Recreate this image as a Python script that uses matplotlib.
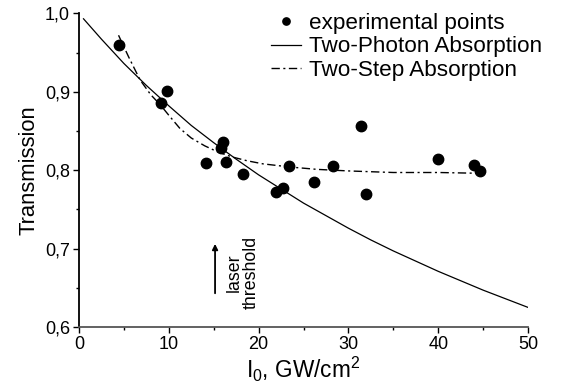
import matplotlib
matplotlib.use("Agg")
import matplotlib.pyplot as plt
from matplotlib.ticker import FuncFormatter, MultipleLocator

plt.rcParams['font.family'] = ['Liberation Sans', 'DejaVu Sans']
plt.rcParams['mathtext.fontset'] = 'custom'
plt.rcParams['mathtext.rm'] = 'Liberation Sans'
plt.rcParams['mathtext.it'] = 'Liberation Sans'

# experimental points
exp_x = [4.4, 9.1, 9.8, 14.1, 16.0, 15.8, 16.4, 18.3, 21.9, 22.7, 23.4, 26.2, 28.3, 31.4, 32.0, 40.0, 44.0, 44.6]
exp_y = [0.960, 0.885, 0.901, 0.809, 0.836, 0.828, 0.810, 0.795, 0.772, 0.777, 0.805, 0.785, 0.805, 0.856, 0.769, 0.814, 0.806, 0.799]

# Two-Photon Absorption fit curve
tpa_x = [0.5, 2.5, 5, 7.5, 10, 12.5, 15, 17.5, 20, 22.5, 25, 27.5, 30, 32.5, 35, 37.5, 40, 42.5, 45, 47.5, 50]
tpa_y = [0.993, 0.967, 0.936, 0.908, 0.882, 0.857, 0.835, 0.814, 0.794, 0.776, 0.758, 0.742, 0.726, 0.711, 0.697, 0.684, 0.671, 0.659, 0.647, 0.636, 0.625]

# Two-Step Absorption fit curve
tsa_x = [4.4, 5.5, 6.8, 8.0, 9.0, 10.0, 11.25, 12.5, 14.0, 15.5, 17.0, 18.7, 20.5, 23.5, 26.5, 30, 35, 40, 44.6]
tsa_y = [0.972, 0.945, 0.915, 0.896, 0.884, 0.870, 0.853, 0.841, 0.831, 0.823, 0.817, 0.812, 0.808, 0.804, 0.801, 0.799, 0.797, 0.797, 0.796]

fig = plt.figure(figsize=(5.62, 3.89), dpi=100)
ax = fig.add_axes([0.1406, 0.1594, 0.7989, 0.8064])

ax.plot(exp_x, exp_y, 'o', color='black', markersize=7.5, label='experimental points', zorder=3)
ax.plot(tpa_x, tpa_y, '-', color='black', linewidth=0.9, label='Two-Photon Absorption')
ax.plot(tsa_x, tsa_y, color='black', linewidth=1.0, dashes=[6, 2.5, 1.5, 2.5], label='Two-Step Absorption')

ax.set_xlim(0, 50)
ax.set_ylim(0.6, 1.0)
ax.xaxis.set_major_locator(MultipleLocator(10))
ax.xaxis.set_minor_locator(MultipleLocator(5))
ax.yaxis.set_major_locator(MultipleLocator(0.1))
ax.yaxis.set_minor_locator(MultipleLocator(0.05))
ax.yaxis.set_major_formatter(FuncFormatter(lambda v, p: f"{v:.1f}".replace('.', ',')))

for s in ['top', 'right']:
    ax.spines[s].set_visible(False)
for s in ['left', 'bottom']:
    ax.spines[s].set_linewidth(1.3)
ax.spines['bottom'].set_color('#555555')
ax.spines['left'].set_color('black')
ax.tick_params(which='major', direction='out', length=4.5, width=1.0, labelsize=13, pad=2)
ax.tick_params(which='minor', direction='out', length=2.5, width=1.0)

ax.set_ylabel('Transmission', fontsize=15.8, labelpad=4)
ax.set_xlabel(r'I$_{\mathrm{0}}$, GW/cm$^{\mathrm{2}}$', fontsize=16.3, labelpad=1)

ax.annotate('', xy=(15.15, 0.706), xytext=(15.15, 0.643),
            arrowprops=dict(arrowstyle='-|>', color='black', lw=1.3, mutation_scale=8, shrinkA=0, shrinkB=0))
ax.text(18.2, 0.669, 'laser\nthreshold', rotation=90, ha='center', va='center', fontsize=12.8, linespacing=1.0)

leg = ax.legend(loc='upper right', bbox_to_anchor=(1.062, 1.045), frameon=False, fontsize=16.2,
                handlelength=1.35, handletextpad=0.35, labelspacing=0.12, borderaxespad=0.2, markerscale=0.7)

fig.savefig('out.png', dpi=100)
